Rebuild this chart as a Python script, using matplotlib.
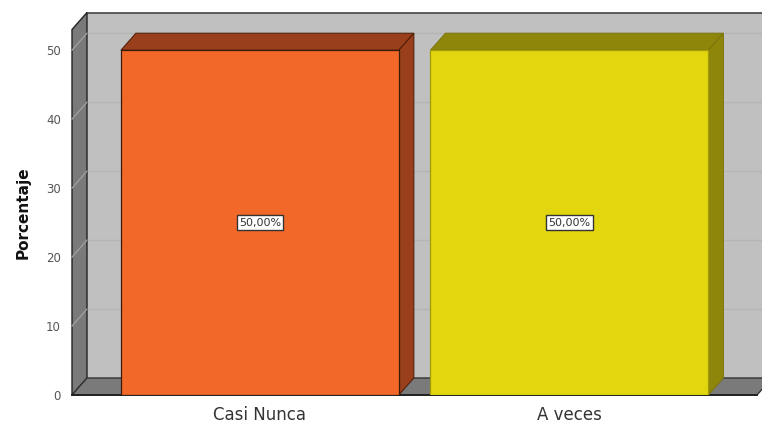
import matplotlib
matplotlib.use("Agg")
import matplotlib.pyplot as plt
from matplotlib.patches import Polygon
import numpy as np

categories = ["Casi Nunca", "A veces"]
percentages = [50.0, 50.0]
value_labels = ["50,00%", "50,00%"]
y_ticks = [0, 10, 20, 30, 40, 50]

front_colors = ["#F26829", "#E2D60E"]
shade_colors = ["#9A3F1B", "#8E860A"]
edge_colors = ["#3a1a08", "#a39a0a"]
shade_edges = ["#4a1c08", "#7c740a"]

W, H = 762, 423
fig = plt.figure(figsize=(W / 100, H / 100), dpi=100)

# front plane of the plot, in pixels
left_px, right_px, base_px, top_px = 72, 757, 395, 29.5
ax = fig.add_axes([left_px / W, (H - base_px) / H,
                   (right_px - left_px) / W, (base_px - top_px) / H])
ymax = 53.0
ax.set_ylim(0, ymax)
ax.set_xlim(-0.607, 1.606)
ax.set_facecolor("none")
for s in ax.spines.values():
    s.set_visible(False)

# depth offset of the 3D look, in display pixels
DX, DY = 15, 17


def back(x, y):
    """Data point pushed back by the depth offset."""
    px, py = ax.transData.transform((x, y))
    return ax.transData.inverted().transform((px + DX, py + DY))


def poly(pts, fc, ec="none", lw=0.8, z=1):
    p = Polygon(pts, closed=True, facecolor=fc, edgecolor=ec, linewidth=lw,
                zorder=z, clip_on=False)
    ax.add_patch(p)


x0, x1 = ax.get_xlim()
xr = x1 + 0.1

# back wall
poly([back(x0, 0), back(xr, 0), back(xr, ymax), back(x0, ymax)], "#C0C0C0", z=0)
bx, by = zip(back(x0, ymax), back(xr, ymax))
ax.plot(bx, by, color="#444444", lw=1.2, clip_on=False, zorder=0.5)

# grid lines on back wall and side wall
for t in y_ticks[1:]:
    p0 = back(x0, t)
    p1 = back(xr, t)
    ax.plot([p0[0], p1[0]], [p0[1], p1[1]], color="#B5B5B5", lw=1.0,
            clip_on=False, zorder=0.6)

# left side wall
poly([(x0, 0), back(x0, 0), back(x0, ymax), (x0, ymax)], "#7A7A7A",
     ec="#222222", lw=1.0, z=0.7)
for t in y_ticks[1:]:
    p1 = back(x0, t)
    ax.plot([x0, p1[0]], [t, p1[1]], color="#A0A0A0", lw=0.9,
            clip_on=False, zorder=0.8)

# floor
poly([(x0, 0), (x1, 0), back(x1, 0), back(x0, 0)], "#7A7A7A",
     ec="#333333", lw=1.0, z=0.9)
ax.plot([x0, x1], [0, 0], color="#222222", lw=1.4, clip_on=False, zorder=0.95)

# bars
xs = np.arange(len(categories))
width = 0.898
for xi, v, fc, sc, ec, se, lab in zip(xs, percentages, front_colors, shade_colors,
                                      edge_colors, shade_edges, value_labels):
    l, r = xi - width / 2, xi + width / 2
    # top face
    poly([(l, v), (r, v), back(r, v), back(l, v)], sc, ec=se, lw=0.7, z=2)
    # side face
    poly([(r, 0), back(r, 0), back(r, v), (r, v)], sc, ec=se, lw=0.7, z=2)
    # front face
    ax.bar(xi, v, width=width, color=fc, edgecolor=ec, linewidth=0.9, zorder=3)
    ax.text(xi, v / 2, lab, ha="center", va="center", fontsize=8,
            color="#333333", zorder=4,
            bbox=dict(boxstyle="square,pad=0.2", fc="white", ec="#333333", lw=1.0))

ax.set_yticks(y_ticks)
ax.set_yticklabels([str(t) for t in y_ticks], fontsize=8.5, color="#555555")
ax.tick_params(axis="y", length=0, pad=8)
ax.set_xticks(xs)
ax.set_xticklabels(categories, fontsize=12, color="#333333")
ax.tick_params(axis="x", length=0, pad=8)
ax.set_ylabel("Porcentaje", fontsize=11, fontweight="bold", color="#111111", labelpad=11)

fig.savefig("out.png", dpi=100)
